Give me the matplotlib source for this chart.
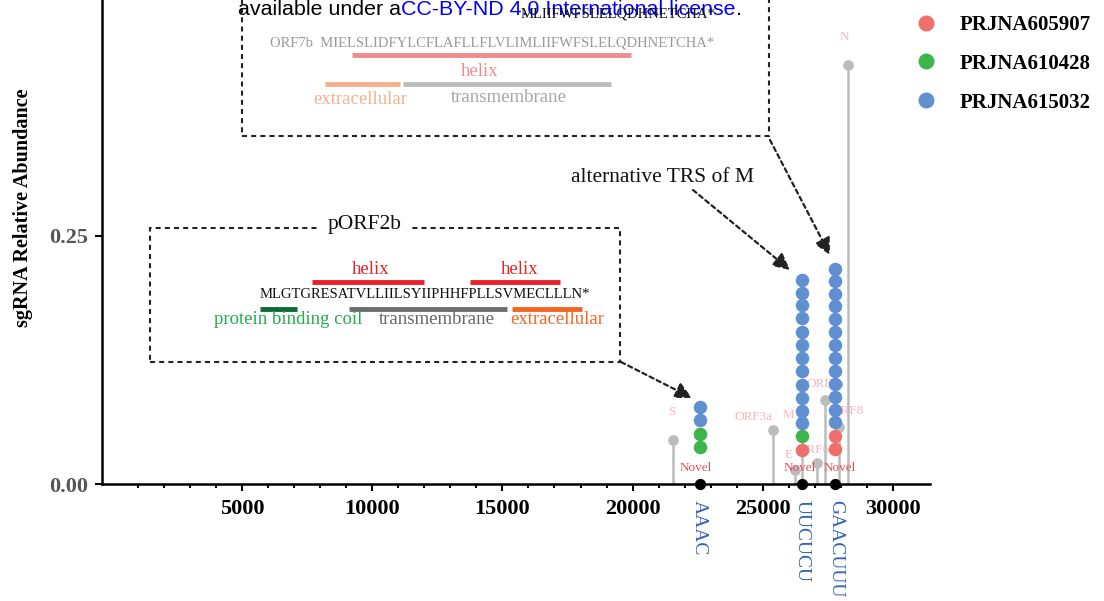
import numpy as np
import matplotlib
matplotlib.use('Agg')
import matplotlib.pyplot as plt
from matplotlib.lines import Line2D
from matplotlib.patches import Rectangle
from matplotlib.ticker import FixedLocator

plt.rcParams['font.family'] = ['Liberation Serif', 'DejaVu Serif']

# canonical sgRNA (gray lollipops)
genes = ['S', 'ORF3a', 'E', 'M', 'ORF6', 'ORF7a', 'ORF8', 'N']
gene_pos = [21563, 25393, 26245, 26523, 27100, 27394, 27950, 28274]
gene_val = [0.044, 0.054, 0.014, 0.065, 0.021, 0.085, 0.057, 0.422]
gene_lab_x = [21510, 24660, 26000, 26000, 26960, 27400, 28280, 28150]
gene_lab_y = [0.073, 0.068, 0.029, 0.070, 0.034, 0.101, 0.074, 0.451]

# novel TRS
novel_pos = [22580, 26515, 27790]
novel_seq = ['AAAC', 'UUCUCU', 'GAACUUU']
novel_lab_x = [22440, 26440, 27960]

# dots per project, one list per novel TRS column
projects = ['PRJNA605907', 'PRJNA610428', 'PRJNA615032']
colors = ['#ef6f6c', '#3cb54a', '#6090d0']
red_vals = [[], [0.034], [0.035, 0.048]]
green_vals = [[0.037, 0.050], [0.048], []]
blue_vals = [
    [0.0645, 0.0776],
    [0.061, 0.074, 0.087, 0.100, 0.114, 0.127, 0.140, 0.153, 0.167, 0.180, 0.193, 0.206],
    [0.062, 0.075, 0.088, 0.101, 0.114, 0.127, 0.140, 0.153, 0.166, 0.179, 0.192, 0.205, 0.217],
]

W, H = 1104, 601


def fx(px):
    return px / W


def fy(py):
    return 1 - py / H


fig = plt.figure(figsize=(W / 100, H / 100), dpi=100)
ax = fig.add_axes([fx(101.7), fy(484), (930 - 101.7) / W, 484 / H])
ax.set_xlim(-400, 31430)
ax.set_ylim(0, 0.4879)

# gray stems
ax.vlines(gene_pos, 0, gene_val, color='#bcbcbc', lw=1.8, zorder=1)
ax.scatter(gene_pos, gene_val, s=45, color='#bcbcbc', zorder=1.5)
for g, lx, ly in zip(genes, gene_lab_x, gene_lab_y):
    ax.text(lx, ly, g, color='#f6b5c0', fontsize=9.5, ha='center', va='center', zorder=1.8)

# novel black dots on axis
ax.scatter(novel_pos, [0] * len(novel_pos), s=50, color='black', zorder=6, clip_on=False)
for lx in novel_lab_x:
    ax.text(lx, 0.016, 'Novel', color='#f04a55', fontsize=9.5, ha='center', va='center', zorder=5)

# stacked project dots
for vals, c in zip([red_vals, green_vals, blue_vals], colors):
    for x, col in zip(novel_pos, vals):
        if col:
            ax.scatter([x] * len(col), col, s=95, color=c, zorder=4, linewidths=0)

# sequences under axis
for x, s in zip(novel_pos, novel_seq):
    ax.text(x, -0.033, s, transform=ax.get_xaxis_transform(), rotation=-90,
            ha='center', va='top', color='#3465b4', fontsize=14)

# axes style
for sp in ['top', 'right']:
    ax.spines[sp].set_visible(False)
for sp in ['left', 'bottom']:
    ax.spines[sp].set_linewidth(1.8)
ax.set_xticks([5000, 10000, 15000, 20000, 25000, 30000])
ax.xaxis.set_minor_locator(FixedLocator([v for v in range(1000, 30000, 1000) if v % 5000]))
ax.set_yticks([0, 0.25])
ax.set_yticklabels(['0.00', '0.25'])
ax.tick_params(axis='x', which='major', length=5, width=1.5, pad=6)
ax.tick_params(axis='x', which='minor', length=3, width=1.5)
ax.tick_params(axis='y', length=5, width=1.5, pad=5, labelcolor='#555555', color='black')
for lab in ax.get_xticklabels() + ax.get_yticklabels():
    lab.set_fontweight('bold')
    lab.set_fontsize(16)
ax.set_ylabel('sgRNA Relative Abundance', fontsize=14.5, fontweight='bold')
ax.yaxis.set_label_coords(-0.083, 0.57)

# legend
handles = [Line2D([], [], ls='', marker='o', ms=11.5, mfc=c, mec='none') for c in colors]
fig.legend(handles, projects, loc='upper left', bbox_to_anchor=(fx(916), fy(15)),
           frameon=False, borderpad=0, borderaxespad=0, handlelength=1.0,
           handletextpad=1.1, labelspacing=0.9,
           prop=dict(family='Liberation Serif', weight='bold', size=15))

# annotation boxes
dash = (0, (2.4, 2))
fig.add_artist(Rectangle((fx(242), fy(136)), fx(769) - fx(242), fy(-10) - fy(136),
                         transform=fig.transFigure, fill=False, ls=dash, lw=1.5, ec='#222222'))
fig.add_artist(Rectangle((fx(150), fy(362)), fx(620) - fx(150), fy(228) - fy(362),
                         transform=fig.transFigure, fill=False, ls=dash, lw=1.5, ec='#222222'))


def bar(x0, x1, y, c):
    fig.add_artist(Line2D([fx(x0), fx(x1)], [fy(y), fy(y)], transform=fig.transFigure,
                          color=c, lw=3.5, solid_capstyle='butt'))


def label(x, y, s, c, size=13.5, ha='center', **kw):
    return fig.text(fx(x), fy(y), s, color=c, fontsize=size, ha=ha, va='center', **kw)


# ORF7b box
label(618, 14, 'MLIIFWFSLELQDHNETCHA*', '#111111', size=10.5)
label(270, 43, 'ORF7b  MIELSLIDFYLCFLAFLLFLVLIMLIIFWFSLELQDHNETCHA*', '#999999', size=10.5, ha='left')
bar(352, 631, 55, '#f28b8f')
label(480, 71, 'helix', '#f28b8f')
bar(325, 400, 84, '#f6b18c')
bar(403, 611, 84, '#bdbdbd')
label(360, 99, 'extracellular', '#f6b18c')
label(509, 98, 'transmembrane', '#a6a6a6')

# pORF2b box
label(365, 225, 'pORF2b', '#111111', size=15.5,
      bbox=dict(fc='white', ec='none', pad=6))
label(371, 270, 'helix', '#e8202a')
bar(312, 424, 282, '#e8202a')
label(520, 270, 'helix', '#e8202a')
bar(470, 560, 282, '#e8202a')
label(260, 294, 'MLGTGRESATVLLIILSYIIPHHFPLLSVMECLLLN*', '#111111', size=10.5, ha='left')
bar(260, 297, 309, '#0e6b35')
bar(349, 507, 309, '#6e6e6e')
bar(512, 582, 309, '#f26522')
label(288, 320, 'protein binding coil', '#1fae4b')
label(437, 320, 'transmembrane', '#666666')
label(557, 320, 'extracellular', '#f26522')

label(663, 177, 'alternative TRS of M', '#111111', size=15.5)

# dashed arrows
arrows = [((621, 362), (692, 398)), ((693, 190), (790, 270)), ((770, 140), (830, 255))]
for (x0, y0), (x1, y1) in arrows:
    ax.annotate('', xy=(x1, H - y1), xytext=(x0, H - y0), xycoords='figure pixels',
                textcoords='figure pixels', annotation_clip=False,
                arrowprops=dict(arrowstyle='-|>,head_length=1.0,head_width=0.5',
                                ls=(0, (2, 1.6)), lw=1.6, color='#222222',
                                shrinkA=0, shrinkB=0))

# bioRxiv watermark line
t1 = fig.text(fx(238), fy(15), 'available under a', family='Liberation Sans',
              fontsize=15.4, color='black', va='baseline', ha='left')
t2 = ax.annotate('CC-BY-ND 4.0 International license', xy=(1, 0), xycoords=t1,
                 family='Liberation Sans', fontsize=15.4, color='#0000ff',
                 va='bottom', ha='left', annotation_clip=False)
ax.annotate('.', xy=(1, 0), xycoords=t2, family='Liberation Sans',
            fontsize=15.4, color='black', va='bottom', ha='left', annotation_clip=False)

fig.savefig('out.png', dpi=100)
